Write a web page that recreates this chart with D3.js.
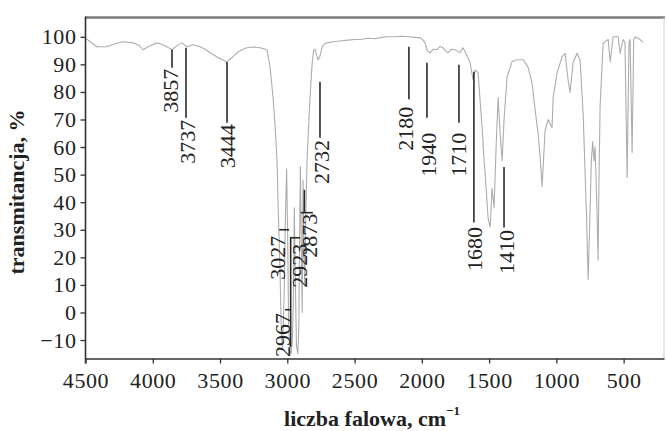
<!DOCTYPE html>
<html><head><meta charset="utf-8">
<script src="https://cdn.jsdelivr.net/npm/d3@7"></script>
<style>
html,body{margin:0;padding:0;background:#fff;}
svg{display:block;}
text{font-family:"Liberation Serif","Times New Roman",serif;}
</style></head>
<body>
<svg id="chart" width="667" height="431"></svg>
<script>
// ---- data ----
const wavenumber = [4500,4460,4415,4340,4280,4221,4147,4100,4072,4035,3968,3930,3894,3857,3820,3783,3745,3701,3649,3610,3574,3510,3448,3410,3374,3330,3299,3250,3203,3151,3128,3106,3091,3076,3069,3054,3044,3035,3024,3014,3005,2998,2990,2980,2972,2962,2955,2948,2940,2932,2922,2914,2908,2903,2896,2889,2883,2876,2870,2863,2853,2846,2831,2816,2805,2794,2780,2771,2757,2740,2720,2705,2650,2608,2550,2500,2459,2400,2350,2300,2250,2200,2150,2096,2050,2013,1990,1976,1960,1939,1915,1887,1865,1842,1820,1805,1780,1753,1735,1716,1694,1664,1641,1619,1604,1582,1567,1552,1537,1522,1507,1492,1478,1463,1448,1433,1418,1403,1389,1366,1329,1292,1247,1210,1180,1158,1136,1121,1106,1084,1061,1032,1024,995,957,935,913,898,876,846,824,801,786,776,768,764,758,749,740,730,720,712,700,690,684,675,660,652,615,600,578,541,526,504,490,474,460,452,437,425,415,377,355];
const transmittance = [99.5,98,96.4,96.4,97.5,98.2,97.8,96.8,95.3,96.4,97.8,97.2,96.4,95.3,96.8,97.8,96.4,97.1,96.4,95.5,94.2,92.3,90.9,92.5,94.2,95.5,96.0,96.3,96.0,95.3,89,78,68,55,40,15,-8,-13,5,35,52,30,-5,-14,-15,-10,5,38,10,-12,-15,-5,30,53,25,0,48,20,10,35,55,63,78,90,95,95.5,93,91.6,93,96.5,97.5,97.8,98.3,98.5,98.8,99,99,99.5,99.3,99.8,100,100,100.2,100,99.8,99.6,98.8,97.8,95,94.2,95.5,95.3,96.5,96,94.6,94.2,95.5,95.3,94.8,94.2,96,93,90.6,84.4,88,87,77,67,55,45,34,31,45,38,60,78,65,55,70,85.5,91,91.7,91.7,89,83,73.5,65,56.5,45.6,66,70,67,78,87,92.8,94,84.4,79.7,90.6,94,91.7,72,50,35,20,12,22,38,55,62,55,60,40,19,45,75,90,97.8,99,91,100,100,94,99,98,49,98,99,58,99,100,99,98];

const xTicks = [4500,4000,3500,3000,2500,2000,1500,1000,500];
const yTicks = [100,90,80,70,60,50,40,30,20,10,0,-10];

const peakLabels = ["3857","3737","3444","2732","2180","1940","1710","1680","1410","3027","2967","2923","2873"];
const labelWn    = [3871,3745,3444,2749,2125,1954,1731,1612,1374,3073,3039,2909,2836];
const labelTop   = [88.4,69.9,68.3,62.6,74.6,65.2,65.2,31.0,29.9,27.8,-0.2,24.9,35.8];
const leaders = [
  [[[3857,95.3],[3857,88.8]]],
  [[[3753,96.0],[3753,70.6]]],
  [[[3448,90.9],[3448,68.8]]],
  [[[2757,83.7],[2757,63.4]]],
  [[[2096,96.4],[2096,77.3]]],
  [[[1962,90.6],[1962,70.6]]],
  [[[1724,89.9],[1724,68.8]]],
  [[[1613,87.3],[1613,32.6]]],
  [[[1389,52.8],[1389,30.8]]],
  [[[3060,30.0],[2987,30.0]]],
  [[[2975,27.4],[2975,-12.5]],[[3017,1.0],[2975,1.0]]],
  [[[2975,27.1],[2905,27.1]]],
  [[[2873,44.5],[2873,36.2]],[[2900,36.2],[2810,36.2]]]
];

const xTitle = "liczba falowa, cm";
const xTitleSup = "−1";
const yTitle = "transmitancja, %";

// ---- drawing ----
const svg = d3.select("#chart");
const L = 85.5, R = 664, T = 17.5, B = 358.5;
const x = d3.scaleLinear().domain([4500, 200]).range([L, R]);
const y = d3.scaleLinear().domain([-16.7, 107]).range([B, T]);

// frame top / right
svg.append("line").attr("x1", L).attr("x2", R+1).attr("y1", T).attr("y2", T)
  .attr("stroke", "#7d7d7d").attr("stroke-width", 2.5);
svg.append("line").attr("x1", R).attr("x2", R).attr("y1", T).attr("y2", B)
  .attr("stroke", "#cfcfcf").attr("stroke-width", 1);

// spectrum
const pts = wavenumber.map((w,i)=>[w, transmittance[i]]);
svg.append("path").datum(pts)
  .attr("fill","none").attr("stroke","#adadad").attr("stroke-width",1.1)
  .attr("stroke-linejoin","round")
  .attr("d", d3.line().x(d=>x(d[0])).y(d=>y(d[1])));

// leaders
const lineGen = d3.line().x(d=>x(d[0])).y(d=>y(d[1]));
leaders.forEach(segs => segs.forEach(s => {
  svg.append("path").attr("d", lineGen(s)).attr("fill","none")
    .attr("stroke","#2a2a2a").attr("stroke-width",1.6);
}));

// peak labels
peakLabels.forEach((t,i)=>{
  svg.append("text")
    .attr("transform", `translate(${x(labelWn[i])},${y(labelTop[i])}) rotate(-90)`)
    .attr("text-anchor","end").attr("dy","0.35em")
    .attr("font-size", 22).attr("fill","#222").text(t);
});

// axes
const ax = svg.append("g").attr("transform", `translate(0,${B})`)
  .call(d3.axisBottom(x).tickValues(xTicks).tickFormat(d3.format("d")).tickSize(5).tickSizeOuter(0).tickPadding(4));
const ay = svg.append("g").attr("transform", `translate(${L},0)`)
  .call(d3.axisLeft(y).tickValues(yTicks).tickFormat(d3.format("d")).tickSize(5).tickSizeOuter(0).tickPadding(4));
[ax, ay].forEach(g=>{
  g.select(".domain").attr("stroke","#333").attr("stroke-width",1.6);
  g.selectAll(".tick line").attr("stroke","#333").attr("stroke-width",1.3);
  g.selectAll(".tick text").attr("font-family","Liberation Serif").attr("font-size",22)
    .attr("fill","#222").attr("letter-spacing","0.6px");
});
ay.select(".domain").attr("d", `M0,${T-1}V${B+5}`);
ax.selectAll(".tick text").attr("dy","0.95em");

// titles
const xt = svg.append("text").attr("x", 372).attr("y", 426)
  .attr("text-anchor","middle").attr("font-size",22).attr("font-weight","bold").attr("fill","#222");
xt.append("tspan").text(xTitle);
xt.append("tspan").attr("font-size",13).attr("dy",-11).text(xTitleSup);

svg.append("text").attr("transform","translate(24,192) rotate(-90)")
  .attr("text-anchor","middle").attr("font-size",22).attr("font-weight","bold").attr("fill","#222")
  .text(yTitle);
</script>
</body></html>
